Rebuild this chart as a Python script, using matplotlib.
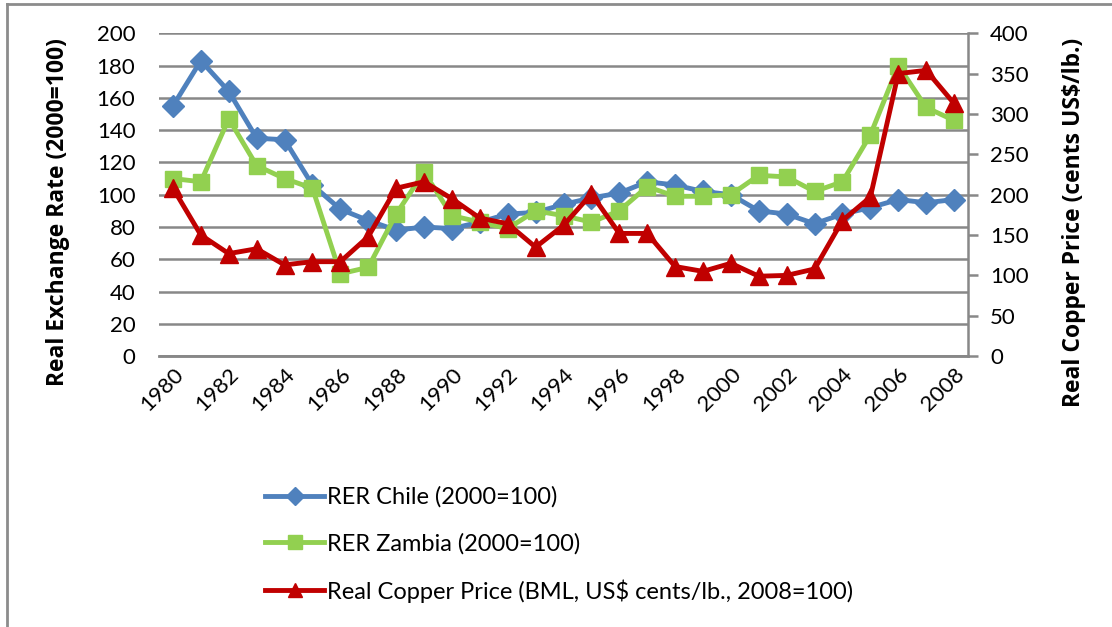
import numpy as np
import matplotlib.pyplot as plt
from matplotlib.lines import Line2D

# years on the category axis
years = list(range(1980, 2009))

# real exchange rates, 2000=100
rer_chile = [155, 183, 164, 135, 134, 106, 91, 84, 78, 80, 79, 83, 88, 89, 94, 98,
             101, 108, 106, 102, 100, 90, 88, 82, 88, 92, 97, 95, 97]
rer_zambia = [110, 108, 147, 118, 110, 104, 51, 55, 88, 114, 87, 83, 79, 90, 87, 83,
              90, 105, 99, 99, 100, 112, 111, 102, 108, 137, 180, 154, 146]
# real copper price, US$ cents/lb.
copper = [208, 150, 127, 133, 113, 117, 117, 148, 208, 216, 195, 171, 164, 135, 162, 201,
          152, 152, 111, 105, 115, 99, 100, 108, 168, 197, 350, 354, 313]

labels = ['RER Chile (2000=100)', 'RER Zambia (2000=100)',
          'Real Copper Price (BML, US$ cents/lb., 2008=100)']

plt.rcParams['font.family'] = ['Lato', 'DejaVu Sans']

fig = plt.figure(figsize=(11.12, 6.27), dpi=100)
ax = fig.add_axes([0.143, 0.432, 0.7275, 0.515])
ax2 = ax.twinx()

x = np.arange(len(years))
grid_c = '#888888'

l1, = ax.plot(x, rer_chile, color='#4F81BD', lw=3.5, marker='D', ms=11, label=labels[0])
l2, = ax.plot(x, rer_zambia, color='#92D050', lw=3.5, marker='s', ms=12, label=labels[1])
l3, = ax2.plot(x, copper, color='#C00000', lw=3.5, marker='^', ms=13, label=labels[2])

ax.set_xlim(-0.5, len(years) - 0.5)
ax.set_ylim(0, 200)
ax2.set_ylim(0, 400)
ax.set_yticks(range(0, 201, 20))
ax2.set_yticks(range(0, 401, 50))
ax.set_xticks(x[::2])
ax.set_xticklabels([str(y) for y in years[::2]], rotation=45, ha='right',
                   rotation_mode='anchor', fontsize=16)

ax.yaxis.grid(True, color=grid_c, lw=1.8)
ax.set_axisbelow(True)
for a in (ax, ax2):
    for s in ('top', 'left', 'right'):
        a.spines[s].set_visible(False)
    a.spines['bottom'].set_color(grid_c)
    a.spines['bottom'].set_linewidth(1.8)
ax2.spines['right'].set_visible(True)
ax2.spines['right'].set_color(grid_c)
ax2.spines['right'].set_linewidth(1.8)

ax.tick_params(axis='y', length=0, labelsize=16, pad=17)
ax.tick_params(axis='x', length=0, pad=6)
ax2.tick_params(axis='y', length=7, width=1.8, color=grid_c, labelsize=16, pad=9)

# bold axis titles need a family that ships a bold face
bold = dict(fontsize=16.5, fontweight='bold', family=['Open Sans', 'DejaVu Sans'])
ax.set_ylabel('Real Exchange Rate (2000=100)', **bold)
ax2.set_ylabel('Real Copper Price (cents US$/lb.)', **bold)
ax.yaxis.set_label_coords(-0.110, 0.446)
ax2.yaxis.set_label_coords(1.116, 0.415)

fig.legend(handles=[l1, l2, l3], loc='upper left', bbox_to_anchor=(0.2195, 0.258),
           frameon=False, fontsize=17, handlelength=2.5, handletextpad=0.1,
           labelspacing=1.05, markerscale=0.8)

# outer chart frame (top and left edges)
fig.add_artist(Line2D([7 / 1112, 1], [1 - 4 / 627, 1 - 4 / 627], color='#8c8c8c', lw=2))
fig.add_artist(Line2D([7 / 1112, 7 / 1112], [0, 1 - 4 / 627], color='#8c8c8c', lw=2))

fig.savefig('out.png', dpi=100)
